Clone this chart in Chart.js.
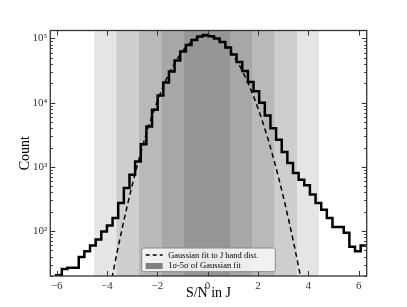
<!DOCTYPE html>
<html>
<head>
<meta charset="utf-8">
<script src="https://cdn.jsdelivr.net/npm/chart.js@4"></script>
<style>
html, body { margin: 0; padding: 0; background: #fff; }
</style>
</head>
<body>
<canvas id="snchart" width="407" height="307"></canvas>
<script>
// S/N in J histogram, equal-width bins
const binStart = -6.24;
const binWidth = 0.224;
const counts = [17, 20.5, 25.8, 26.8, 26.8, 39.7, 48.5, 59.5, 73.8, 99,
  122, 160, 275, 470, 757, 1216, 2250, 4265, 7770, 12950,
  20600, 30500, 45300, 62500, 79400, 95000, 107000, 113000, 108000, 100000,
  88000, 72000, 56000, 43000, 31000, 21000, 15000, 10000, 6300, 4000,
  2650, 1700, 1150, 800, 630, 520, 370, 275, 215, 160,
  116, 116, 94, 57, 48.5, 59.5];

// dashed gaussian fit
const gaussX = [-3.8, -3.6, -3.4, -3.2, -3.0, -2.8, -2.6, -2.4, -2.2, -2.0, -1.8, -1.6, -1.4, -1.2, -1.0,
  -0.8, -0.6, -0.4, -0.2, 0, 0.2, 0.4, 0.6, 0.8, 1.0, 1.2, 1.4, 1.6, 1.8, 2.0, 2.2, 2.4, 2.6, 2.8,
  3.0, 3.2, 3.4, 3.6, 3.8];
const gaussY = [18.7, 46, 108, 241, 512, 1034, 1990, 3640, 6350, 10500, 16600, 25000, 35700, 48600, 63000,
  77700, 91300, 102000, 108500, 109800, 105800, 97100, 84700, 70400, 55700, 41900, 30000, 20500, 13300, 8220,
  4830, 2700, 1440, 730, 352, 162, 71, 29.6, 11.7];

// 1 to 5 sigma shaded spans
const bandLo = [-0.94, -1.83, -2.73, -3.63, -4.51];
const bandHi = [0.89, 1.78, 2.66, 3.55, 4.43];

const xTicks = [-6, -4, -2, 0, 2, 4, 6];
const yTicks = [100, 1000, 10000, 100000];
const yTickLabels = ['10\u00b2', '10\u00b3', '10\u2074', '10\u2075'];

const yMin = 20, yMax = 133000;
const serif = "'Liberation Serif', 'DejaVu Serif', serif";

const histPts = counts.map((c, i) => ({x: binStart + i * binWidth, y: c}));
histPts.push({x: binStart + counts.length * binWidth, y: counts[counts.length - 1]});

const datasets = [];
datasets.push({
  label: 'hist',
  data: histPts,
  stepped: 'before',
  borderColor: '#000',
  borderWidth: 2.5,
  pointRadius: 0,
  fill: false,
  order: 0
});
datasets.push({
  label: 'gauss',
  data: gaussX.map((x, i) => ({x: x, y: gaussY[i]})),
  borderColor: '#000',
  borderWidth: 1.5,
  borderDash: [5, 3.5],
  cubicInterpolationMode: 'monotone',
  pointRadius: 0,
  fill: false,
  order: 1
});
bandLo.forEach((lo, k) => {
  datasets.push({
    label: 'band' + (k + 1),
    data: [{x: lo, y: 1e6}, {x: bandHi[k], y: 1e6}],
    borderWidth: 0,
    borderColor: 'rgba(0,0,0,0)',
    backgroundColor: 'rgba(0,0,0,0.1)',
    pointRadius: 0,
    fill: 'start',
    order: 2 + k
  });
});

function seg(ctx, x1, y1, x2, y2) {
  ctx.beginPath();
  ctx.moveTo(x1, y1);
  ctx.lineTo(x2, y2);
  ctx.stroke();
}

const framePlugin = {
  id: 'frame',
  afterDatasetsDraw(chart) {
    const ctx = chart.ctx;
    const a = chart.chartArea;
    const xs = chart.scales.x, ys = chart.scales.y;
    ctx.save();
    ctx.strokeStyle = '#333';
    ctx.lineWidth = 1;
    // log ticks inward, left and right
    for (let e = 1; e <= 5; e++) {
      for (let m = 1; m < 10; m++) {
        const v = m * Math.pow(10, e);
        if (v < yMin || v > yMax) continue;
        const py = Math.round(ys.getPixelForValue(v)) + 0.5;
        const len = m === 1 ? 5 : 2.5;
        seg(ctx, a.left, py, a.left + len, py);
        seg(ctx, a.right, py, a.right - len, py);
      }
    }
    xTicks.forEach(v => {
      const px = Math.round(xs.getPixelForValue(v)) + 0.5;
      seg(ctx, px, a.bottom, px, a.bottom - 5);
      seg(ctx, px, a.top, px, a.top + 5);
    });
    ctx.lineWidth = 1.3;
    ctx.strokeRect(a.left, a.top, a.right - a.left, a.bottom - a.top);

    // legend box
    const bx = 141.7, by = 248, bw = 133.6, bh = 23.7;
    ctx.beginPath();
    ctx.roundRect(bx, by, bw, bh, 2);
    ctx.fillStyle = 'rgba(255,255,255,0.8)';
    ctx.fill();
    ctx.strokeStyle = '#888';
    ctx.lineWidth = 1;
    ctx.stroke();

    ctx.strokeStyle = '#000';
    ctx.lineWidth = 1.5;
    ctx.setLineDash([4, 3]);
    seg(ctx, bx + 4, by + 7, bx + 21, by + 7);
    ctx.setLineDash([]);
    ctx.fillStyle = '#808080';
    ctx.fillRect(bx + 4, by + 15, 17, 6);

    ctx.fillStyle = '#000';
    ctx.font = '8.5px ' + serif;
    ctx.textBaseline = 'middle';
    ctx.textAlign = 'left';
    ctx.fillText('Gaussian fit to J band dist.', bx + 26.5, by + 7.3);
    ctx.fillText('1\u03c3-5\u03c3 of Gaussian fit', bx + 26.5, by + 18);
    ctx.restore();
  }
};

new Chart(document.getElementById('snchart').getContext('2d'), {
  type: 'line',
  data: {datasets: datasets},
  options: {
    responsive: false,
    devicePixelRatio: 1,
    animation: false,
    layout: {padding: {left: 0, right: 40.3, top: 30.5, bottom: 0}},
    plugins: {legend: {display: false}, tooltip: {enabled: false}},
    scales: {
      x: {
        type: 'linear',
        min: -6.25,
        max: 6.32,
        afterFit: s => { s.height = 31; },
        afterBuildTicks: s => { s.ticks = xTicks.map(v => ({value: v})); },
        grid: {display: false, drawTicks: false},
        border: {display: false},
        ticks: {
          padding: 4,
          color: '#333',
          font: {family: serif, size: 11},
          maxRotation: 0,
          callback: v => (v < 0 ? '\u2212' + Math.abs(v) : String(v))
        },
        title: {display: true, text: 'S/N in J', color: '#000',
          font: {family: serif, size: 14}, padding: {top: 0, bottom: 5}}
      },
      y: {
        type: 'logarithmic',
        min: yMin,
        max: yMax,
        afterFit: s => { s.width = 50.3; },
        afterBuildTicks: s => { s.ticks = yTicks.map(v => ({value: v})); },
        grid: {display: false, drawTicks: false},
        border: {display: false},
        ticks: {
          padding: 3,
          color: '#333',
          font: {family: serif, size: 11},
          callback: v => yTickLabels[yTicks.indexOf(v)]
        },
        title: {display: true, text: 'Count', color: '#000',
          font: {family: serif, size: 14}, padding: {top: 16.5, bottom: 0}}
      }
    }
  },
  plugins: [framePlugin]
});
</script>
</body>
</html>
